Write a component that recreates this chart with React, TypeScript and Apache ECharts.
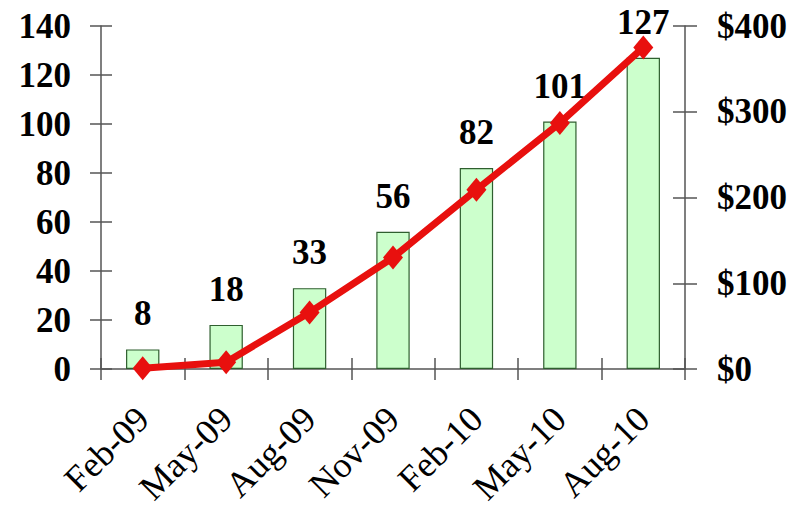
import React, { useEffect, useRef } from "react";
import * as echarts from "echarts";

const categories = ["Feb-09", "May-09", "Aug-09", "Nov-09", "Feb-10", "May-10", "Aug-10"];
const barValues = [8, 18, 33, 56, 82, 101, 127];
const lineValues = [1, 8, 66, 130, 209, 287, 375];

const FONT = "'Liberation Serif', 'Times New Roman', serif";

export default function App() {
  const ref = useRef<HTMLDivElement>(null);
  useEffect(() => {
    document.body.style.margin = "0";
    const chart = echarts.init(ref.current!, null, { renderer: "svg" });
    const axisColor = "#555";
    const yLabel = { fontFamily: FONT, fontSize: 35, fontWeight: "bold", color: "#000" };
    chart.setOption({
      animation: false,
      backgroundColor: "#fff",
      grid: { left: 101, right: 113, top: 26, bottom: 142, containLabel: false },
      xAxis: [
        {
          type: "category",
          data: categories,
          boundaryGap: true,
          axisLine: { lineStyle: { color: axisColor, width: 1.5 } },
          axisTick: { show: true, length: 11, inside: false, lineStyle: { color: axisColor, width: 1.5 } },
          axisLabel: { rotate: 45, margin: 44, fontFamily: FONT, fontSize: 36, color: "#000", interval: 0 },
        },
        {
          type: "category",
          data: categories,
          position: "bottom",
          boundaryGap: true,
          axisLine: { show: false },
          axisTick: { show: true, length: 11, inside: true, lineStyle: { color: axisColor, width: 1.5 } },
          axisLabel: { show: false },
        },
      ],
      yAxis: [
        {
          type: "value",
          min: 0,
          max: 140,
          interval: 20,
          position: "left",
          splitLine: { show: false },
          axisLine: { show: true, lineStyle: { color: axisColor, width: 1.5 } },
          axisTick: { show: true, length: 11, lineStyle: { color: axisColor, width: 1.5 } },
          axisLabel: { ...yLabel, margin: 30 },
        },
        {
          type: "value",
          min: 0,
          max: 400,
          interval: 100,
          position: "right",
          splitLine: { show: false },
          axisLine: { show: true, lineStyle: { color: axisColor, width: 1.5 } },
          axisTick: { show: true, length: 12, lineStyle: { color: axisColor, width: 1.5 } },
          axisLabel: { ...yLabel, margin: 32, formatter: (v: number) => "$" + v },
        },
        {
          type: "value",
          min: 0,
          max: 140,
          interval: 20,
          position: "left",
          splitLine: { show: false },
          axisLine: { show: false },
          axisTick: { show: true, inside: true, length: 11, lineStyle: { color: axisColor, width: 1.5 } },
          axisLabel: { show: false },
        },
        {
          type: "value",
          min: 0,
          max: 400,
          interval: 100,
          position: "right",
          splitLine: { show: false },
          axisLine: { show: false },
          axisTick: { show: true, inside: true, length: 12, lineStyle: { color: axisColor, width: 1.5 } },
          axisLabel: { show: false },
        },
      ],
      series: [
        {
          type: "bar",
          data: barValues,
          xAxisIndex: 0,
          yAxisIndex: 0,
          barWidth: "40%",
          itemStyle: { color: "#ccffcc", borderColor: "#2f5f2f", borderWidth: 1.2 },
          label: {
            show: true,
            position: "top",
            distance: 18,
            fontFamily: FONT,
            fontSize: 35,
            fontWeight: "bold",
            color: "#000",
          },
          z: 2,
        },
        {
          type: "line",
          data: lineValues,
          xAxisIndex: 0,
          yAxisIndex: 1,
          symbol: "diamond",
          symbolSize: [20, 24],
          lineStyle: { color: "#e8100e", width: 7 },
          itemStyle: { color: "#e8100e" },
          z: 5,
        },
      ],
    });
    return () => chart.dispose();
  }, []);
  return <div ref={ref} style={{ width: 798, height: 511, position: "absolute", left: 0, top: 0 }} />;
}
